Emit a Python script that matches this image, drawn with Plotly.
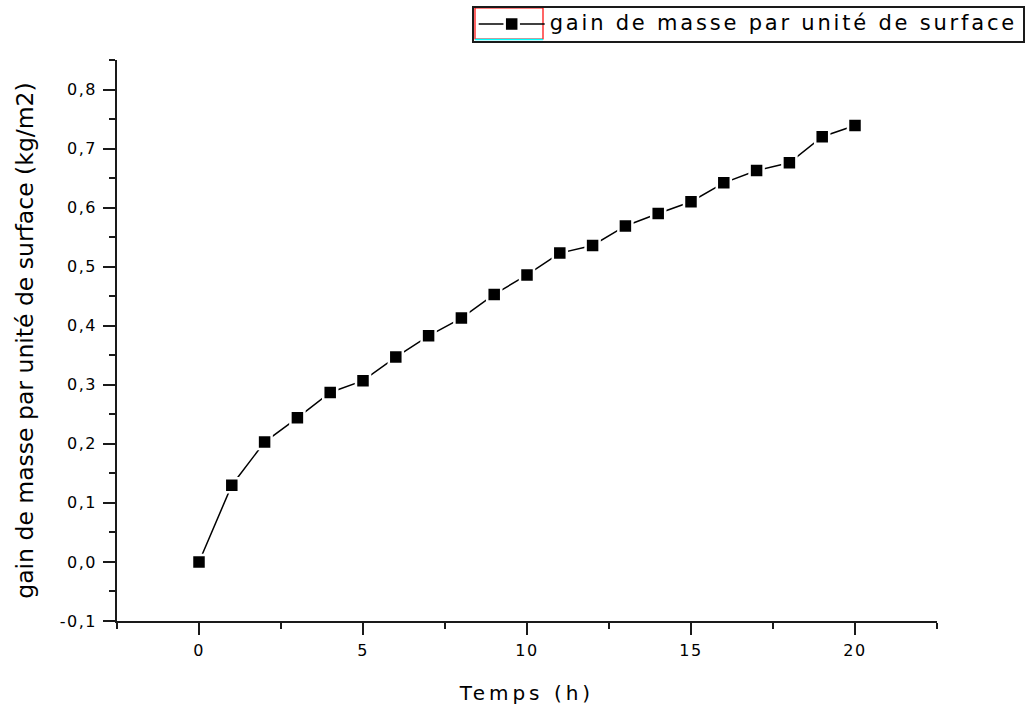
import plotly.graph_objects as go

# Mass gain per unit surface over time
temps_h = list(range(21))
gain_kg_m2 = [0.000, 0.130, 0.203, 0.244, 0.287, 0.307, 0.347, 0.383, 0.413,
              0.453, 0.486, 0.523, 0.536, 0.569, 0.590, 0.610, 0.642, 0.663,
              0.676, 0.720, 0.739]

series_name = "gain de masse par unité de surface"
x_title = "Temps (h)"
y_title = "gain de masse par unité de surface (kg/m2)"

x_tick_vals = [0, 5, 10, 15, 20]
x_tick_text = ["0", "5", "10", "15", "20"]
y_tick_vals = [-0.1, 0.0, 0.1, 0.2, 0.3, 0.4, 0.5, 0.6, 0.7, 0.8]
y_tick_text = ["-0,1", "0,0", "0,1", "0,2", "0,3", "0,4", "0,5", "0,6", "0,7", "0,8"]

W, H = 1029, 711
M_L, M_R, M_T, M_B = 117, 92, 60, 90
INK = "#1a1a1a"
FONT = "DejaVu Sans"


def spaced(text, px, size=None):
    style = f"letter-spacing:{px}px"
    if size:
        style += f";font-size:{size}px"
    return f'<span style="{style}">{text}</span>'


def px_x(px):
    return (px - M_L) / (W - M_L - M_R)


def px_y(py):
    return (H - M_B - py) / (H - M_T - M_B)


fig = go.Figure()
fig.add_trace(go.Scatter(
    x=temps_h, y=gain_kg_m2, mode="lines+markers",
    name=spaced(series_name, 2.8, 21),
    line=dict(color="black", width=1.5),
    marker=dict(symbol="square", size=14, color="black",
                line=dict(color="white", width=2.5)),
))

axis_common = dict(
    showline=True, linecolor=INK, linewidth=1.6,
    ticks="outside", ticklen=12, tickwidth=1.6, tickcolor=INK,
    showgrid=False, zeroline=False, tickmode="array",
    tickfont=dict(family=FONT, size=16, color="black"),
)

fig.update_layout(
    width=W, height=H,
    margin=dict(l=M_L, r=M_R, t=M_T, b=M_B, autoexpand=False),
    paper_bgcolor="white", plot_bgcolor="white",
    showlegend=True,
    legend=dict(
        x=px_x(471.7), y=px_y(5.7), xanchor="left", yanchor="top",
        bordercolor=INK, borderwidth=2, bgcolor="rgba(0,0,0,0)",
        font=dict(family=FONT, size=15, color="black"),
        itemwidth=66,
    ),
    xaxis=dict(
        range=[-2.5, 22.5],
        tickvals=x_tick_vals, ticktext=[spaced(t, 1.5) for t in x_tick_text],
        ticklabelstandoff=2,
        minor=dict(tick0=0, dtick=2.5, ticks="outside",
                   ticklen=6, tickwidth=1.6, tickcolor=INK, showgrid=False),
        title=dict(text=spaced(x_title, 4), standoff=27,
                   font=dict(family=FONT, size=20, color="black")),
        **axis_common,
    ),
    yaxis=dict(
        range=[-0.1, 0.85],
        tickvals=y_tick_vals, ticktext=[spaced(t, 1.5) for t in y_tick_text],
        ticklabelstandoff=3,
        minor=dict(tick0=0, dtick=0.05, ticks="outside",
                   ticklen=6, tickwidth=1.6, tickcolor=INK, showgrid=False),
        title=dict(text=y_title, standoff=20,
                   font=dict(family=FONT, size=23.5, color="black")),
        **axis_common,
    ),
    shapes=[
        dict(type="rect", xref="paper", yref="paper",
             x0=px_x(475), x1=px_x(543), y0=px_y(39), y1=px_y(8),
             line=dict(color="red", width=1.2), fillcolor="rgba(0,0,0,0)"),
        dict(type="line", xref="paper", yref="paper",
             x0=px_x(475), x1=px_x(543), y0=px_y(39.5), y1=px_y(39.5),
             line=dict(color="cyan", width=1.5)),
    ],
)

fig.write_html("out.html")
